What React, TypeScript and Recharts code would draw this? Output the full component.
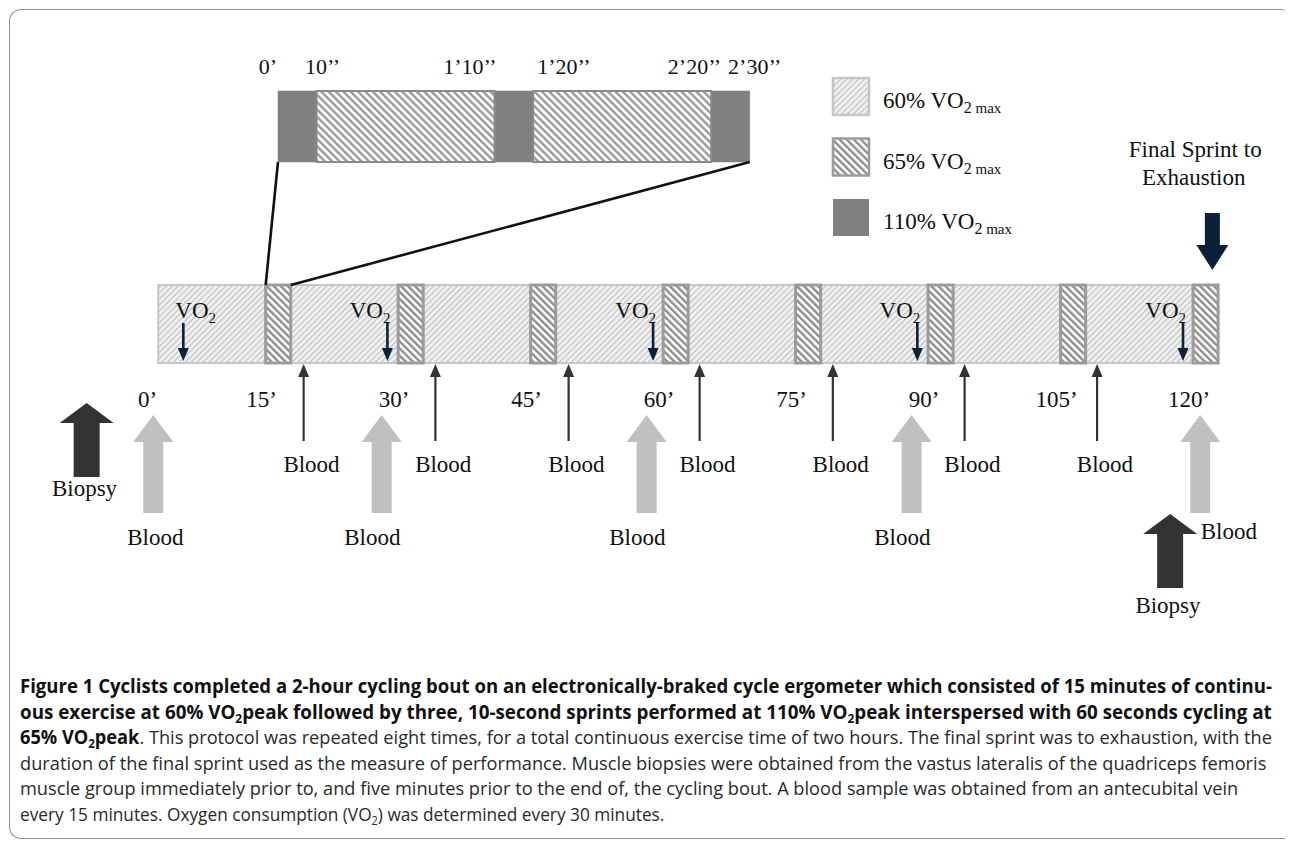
import React, { useLayoutEffect, useRef, useState } from 'react';
import { ComposedChart, XAxis, YAxis, ReferenceArea, ReferenceLine, Scatter, Legend } from 'recharts';

// ---------------- data (diagram units: the picture is schematic, not to scale) ----------------
const segmentIntensity = ['60%', '65%', '60%', '65%', '60%', '65%', '60%', '65%', '60%', '65%', '60%', '65%', '60%', '65%', '60%', '65%'];
const segmentLength = [15, 3.5, 15, 3.5, 15, 3.5, 15, 3.5, 15, 3.5, 15, 3.5, 15, 3.5, 15, 3.5];
const minuteLabels = ['0’', '15’', '30’', '45’', '60’', '75’', '90’', '105’', '120’'];

const insetIntensity = ['110%', '65%', '110%', '65%', '110%'];
const insetLength = [13, 60, 13, 60, 13];
const insetLabels = ['0’', '10’’', '1’10’’', '1’20’’', '2’20’’', '2’30’’'];
const insetLabelAnchor = ['end', 'middle', 'end', 'start', 'end', 'middle'];
const insetLabelShift = [-1, 6, 2, 4, 10, 5];

const vo2Positions = [3.5, 32.0, 69.1, 106.0, 143.1];
const bloodPositions = [20.3, 38.7, 57.3, 75.6, 94.2, 112.6, 131.1];
const bloodMajorPositions = [-0.7, 31.2, 68.2, 105.2, 145.5];
const bloodMajorLabelPositions = [-0.4, 29.9, 66.9, 103.9, 149.5];
const biopsyPositions = [-10.0, 141.3];
const finalSprintPosition = [147.2];
const legendLabels = ['60%', '65%', '110%'];

// ---------------- layout ----------------
const W = 1289;
const H = 680;
const X_DOMAIN: [number, number] = [-22.1, 157.9];
const INSET_START = 16.72;
const INSET_END = 82.6;
const SERIF = "'Liberation Serif', 'Times New Roman', serif";
const SANS = "'Open Sans', 'Noto Sans', sans-serif";

const FILL: Record<string, string> = { '60%': 'url(#p60)', '65%': 'url(#p65)', '110%': '#808080' };
const STROKE: Record<string, string> = { '60%': '#c6c6c6', '65%': '#9c9c9c', '110%': '#808080' };

const cum = (arr: number[]) => {
  let acc = 0;
  return arr.map((l) => {
    const s = acc;
    acc += l;
    return s;
  });
};
const segStart = cum(segmentLength);
const insetStart = cum(insetLength);
const insetTotal = insetLength.reduce((a, b) => a + b, 0);
const insetToMain = (u: number) => INSET_START + (u / insetTotal) * (INSET_END - INSET_START);
const insetBounds = [...insetStart, insetTotal];

// tick positions: 0' at bar start, later labels at the start of each sprint block
const tickPositions = minuteLabels.map((_, k) => (k === 0 ? 0 : segStart[2 * k - 1]));

// ---------------- shapes ----------------
const blockUp = (fill: string, len: number, headH: number, headW: number, shaftW: number) => (p: any) => {
  const { cx, cy } = p;
  const pts = [
    [cx, cy],
    [cx + headW / 2, cy + headH],
    [cx + shaftW / 2, cy + headH],
    [cx + shaftW / 2, cy + len],
    [cx - shaftW / 2, cy + len],
    [cx - shaftW / 2, cy + headH],
    [cx - headW / 2, cy + headH],
  ];
  return <polygon points={pts.map((q) => q.join(',')).join(' ')} fill={fill} />;
};

const blockDown = (fill: string, len: number, headH: number, headW: number, shaftW: number) => (p: any) => {
  const { cx, cy } = p;
  const pts = [
    [cx, cy],
    [cx + headW / 2, cy - headH],
    [cx + shaftW / 2, cy - headH],
    [cx + shaftW / 2, cy - len],
    [cx - shaftW / 2, cy - len],
    [cx - shaftW / 2, cy - headH],
    [cx - headW / 2, cy - headH],
  ];
  return <polygon points={pts.map((q) => q.join(',')).join(' ')} fill={fill} />;
};

const thinUp = (color: string, len: number) => (p: any) => {
  const { cx, cy } = p;
  return (
    <g>
      <line x1={cx} y1={cy + 10} x2={cx} y2={cy + len} stroke={color} strokeWidth={2.2} />
      <polygon points={`${cx},${cy} ${cx + 5.5},${cy + 13} ${cx - 5.5},${cy + 13}`} fill={color} />
    </g>
  );
};

const thinDown = (color: string, len: number) => (p: any) => {
  const { cx, cy } = p;
  return (
    <g>
      <line x1={cx} y1={cy - len} x2={cx} y2={cy - 10} stroke={color} strokeWidth={2.6} />
      <polygon points={`${cx},${cy} ${cx + 5.5},${cy - 13} ${cx - 5.5},${cy - 13}`} fill={color} />
    </g>
  );
};

const textShape = (size: number, anchor: string | ((i: number) => string), dx: number | ((i: number) => number) = 0) => (p: any) => {
  const a = typeof anchor === 'function' ? anchor(p.payload.i) : anchor;
  const d = typeof dx === 'function' ? dx(p.payload.i) : dx;
  return (
    <text x={p.cx + d} y={p.cy} textAnchor={a} fontFamily={SERIF} fontSize={size} fill="#111">
      {p.payload.label}
    </text>
  );
};

const vo2Shape = (p: any) => {
  const first = p.payload.i === 0;
  return (
    <text x={first ? p.cx - 8 : p.cx + 3} y={p.cy} textAnchor={first ? 'start' : 'end'} fontFamily={SERIF} fontSize={23} fill="#111">
      VO<tspan fontSize={15} dy={5}>2</tspan>
    </text>
  );
};

const LegendContent = () => (
  <svg width={220} height={170} style={{ display: 'block' }}>
    {legendLabels.map((l, i) => (
      <g key={l}>
        <rect x={2} y={2 + i * 60.5} width={36} height={37} fill={FILL[l]} stroke={l === '110%' ? 'none' : STROKE[l]} strokeWidth={2.5} />
        <text x={52} y={32 + i * 60.5} fontFamily={SERIF} fontSize={23} fill="#111">
          {l} VO<tspan fontSize={16} dy={5}>2</tspan>
          <tspan fontSize={15}> max</tspan>
        </text>
      </g>
    ))}
  </svg>
);

// caption line condensed to the reference line length
function FitLine({ target, children, style }: { target: number; children: React.ReactNode; style?: React.CSSProperties }) {
  const ref = useRef<HTMLSpanElement>(null);
  const [scale, setScale] = useState(1);
  useLayoutEffect(() => {
    if (ref.current) {
      const w = ref.current.offsetWidth;
      if (w > 0) setScale(target / w);
    }
  }, [target]);
  return (
    <div style={{ height: 25.6, whiteSpace: 'nowrap', ...style }}>
      <span ref={ref} style={{ display: 'inline-block', transform: `scaleX(${scale})`, transformOrigin: '0 0' }}>
        {children}
      </span>
    </div>
  );
}

const sub = (t: string) => <sub style={{ fontSize: 12, verticalAlign: -4 }}>{t}</sub>;

export default function App() {
  const tickData = minuteLabels.map((label, i) => ({ x: tickPositions[i], y: 407, label, i }));
  const insetTickData = insetLabels.map((label, i) => ({ x: insetToMain(insetBounds[i]), y: 74, label, i }));
  const vo2Text = vo2Positions.map((x, i) => ({ x, y: 318, i }));
  const vo2Arrows = vo2Positions.map((x) => ({ x, y: 361 }));
  const bloodArrows = bloodPositions.map((x) => ({ x, y: 364 }));
  const bloodText = bloodPositions.map((x) => ({ x: x + 1.1, y: 472, label: 'Blood' }));
  const majorArrows = bloodMajorPositions.map((x) => ({ x, y: 415 }));
  const majorText = bloodMajorLabelPositions.map((x, i) => ({ x, y: i === 4 ? 539 : 545, label: 'Blood' }));
  const biopsyArrows = biopsyPositions.map((x, i) => ({ x, y: i === 0 ? 403 : 514 }));
  const biopsyText = biopsyPositions.map((x, i) => ({ x: x - 0.3, y: i === 0 ? 496 : 613, label: 'Biopsy' }));
  const sprintArrow = finalSprintPosition.map((x) => ({ x, y: 270 }));
  const sprintText = [
    { x: finalSprintPosition[0] - 2.4, y: 157, label: 'Final Sprint to' },
    { x: finalSprintPosition[0] - 2.6, y: 185, label: 'Exhaustion' },
  ];

  return (
    <div style={{ position: 'absolute', left: 0, top: 0, width: 1289, height: 842, background: '#fff', overflow: 'hidden' }}>
      <svg width={0} height={0} style={{ position: 'absolute' }}>
        <defs>
          <pattern id="p60" width={4.2} height={4.2} patternUnits="userSpaceOnUse" patternTransform="rotate(45)">
            <rect x={0} y={0} width={4.2} height={4.2} fill="#f1f1f1" />
            <rect x={0} y={0} width={1.3} height={4.2} fill="#c4c4c4" />
          </pattern>
          <pattern id="p65" width={5} height={5} patternUnits="userSpaceOnUse" patternTransform="rotate(-45)">
            <rect x={0} y={0} width={5} height={5} fill="#ffffff" />
            <rect x={0} y={0} width={2.4} height={5} fill="#8c8c8c" />
          </pattern>
          <pattern id="p65i" width={5.2} height={5.2} patternUnits="userSpaceOnUse" patternTransform="rotate(-45)">
            <rect x={0} y={0} width={5.2} height={5.2} fill="#ffffff" />
            <rect x={0} y={0} width={2.4} height={5.2} fill="#9a9a9a" />
          </pattern>
        </defs>
      </svg>

      {/* figure frame */}
      <div
        style={{
          position: 'absolute',
          left: 9,
          top: 9,
          width: 1275,
          height: 828,
          borderTop: '1.5px solid #8f8f8f',
          borderLeft: '1.5px solid #8f8f8f',
          borderBottom: '1.5px solid #8f8f8f',
          borderTopLeftRadius: 12,
          borderBottomLeftRadius: 12,
          borderTopRightRadius: 4,
        }}
      />

      <div style={{ position: 'absolute', left: 0, top: 0 }}>
        <ComposedChart width={W} height={H} margin={{ top: 0, right: 0, bottom: 0, left: 0 }}>
          <XAxis type="number" dataKey="x" domain={X_DOMAIN} hide allowDataOverflow />
          <YAxis type="number" dataKey="y" domain={[0, H]} reversed hide allowDataOverflow />
          <Legend
            layout="vertical"
            align="center"
            verticalAlign="middle"
            content={<LegendContent />}
            wrapperStyle={{ position: 'absolute', left: 831, top: 76, width: 220, height: 170 }}
          />

          {/* inset: one sprint block in detail */}
          {insetIntensity.map((k, i) =>
            k === '110%' ? (
              <ReferenceArea
                key={'ia' + i}
                x1={insetToMain(insetStart[i])}
                x2={insetToMain(insetStart[i] + insetLength[i])}
                y1={91}
                y2={162}
                fill="#808080"
                fillOpacity={1}
                stroke="#808080"
                strokeWidth={0.5}
                ifOverflow="visible"
              />
            ) : null
          )}
          {insetIntensity.map((k, i) =>
            k === '65%' ? (
              <ReferenceArea
                key={'ib' + i}
                x1={insetToMain(insetStart[i])}
                x2={insetToMain(insetStart[i] + insetLength[i])}
                y1={91}
                y2={162}
                fill="url(#p65i)"
                fillOpacity={1}
                stroke="#8a8a8a"
                strokeWidth={2}
                ifOverflow="visible"
              />
            ) : null
          )}

          {/* zoom lines */}
          <ReferenceLine
            segment={[
              { x: insetToMain(0), y: 162 },
              { x: segStart[1], y: 285 },
            ]}
            stroke="#111"
            strokeWidth={2.6}
            ifOverflow="visible"
          />
          <ReferenceLine
            segment={[
              { x: insetToMain(insetTotal), y: 162 },
              { x: segStart[1] + segmentLength[1], y: 285 },
            ]}
            stroke="#111"
            strokeWidth={2.6}
            ifOverflow="visible"
          />

          {/* main timeline: 60% segments first, sprint blocks on top */}
          {segmentIntensity.map((k, i) =>
            k === '60%' ? (
              <ReferenceArea
                key={'m' + i}
                x1={segStart[i]}
                x2={segStart[i] + segmentLength[i]}
                y1={285}
                y2={363}
                fill={FILL[k]}
                fillOpacity={1}
                stroke={STROKE[k]}
                strokeWidth={2}
                ifOverflow="visible"
              />
            ) : null
          )}
          {segmentIntensity.map((k, i) =>
            k !== '60%' ? (
              <ReferenceArea
                key={'s' + i}
                x1={segStart[i]}
                x2={segStart[i] + segmentLength[i]}
                y1={285}
                y2={363}
                fill={FILL[k]}
                fillOpacity={1}
                stroke={STROKE[k]}
                strokeWidth={3}
                ifOverflow="visible"
              />
            ) : null
          )}

          <Scatter
            name="inset ticks"
            data={insetTickData}
            isAnimationActive={false}
            shape={textShape(22, (i: number) => insetLabelAnchor[i], (i: number) => insetLabelShift[i])}
          />
          <Scatter
            name="ticks"
            data={tickData}
            isAnimationActive={false}
            shape={textShape(23, (i: number) => (i === 0 ? 'end' : 'middle'), (i: number) => (i === 0 ? -1 : -4))}
          />
          <Scatter name="vo2 text" data={vo2Text} isAnimationActive={false} shape={vo2Shape} />
          <Scatter name="vo2" data={vo2Arrows} isAnimationActive={false} shape={thinDown('#0c1f3b', 38)} />
          <Scatter name="blood" data={bloodArrows} isAnimationActive={false} shape={thinUp('#333333', 77)} />
          <Scatter name="blood text" data={bloodText} isAnimationActive={false} shape={textShape(23, 'middle')} />
          <Scatter name="blood major" data={majorArrows} isAnimationActive={false} shape={blockUp('#c0c0c0', 98, 27, 40, 20)} />
          <Scatter name="blood major text" data={majorText} isAnimationActive={false} shape={textShape(23, 'middle')} />
          <Scatter name="biopsy" data={biopsyArrows} isAnimationActive={false} shape={blockUp('#333333', 74, 20, 54, 26)} />
          <Scatter name="biopsy text" data={biopsyText} isAnimationActive={false} shape={textShape(23, 'middle')} />
          <Scatter name="final sprint" data={sprintArrow} isAnimationActive={false} shape={blockDown('#0c1f3b', 57, 25, 32, 15)} />
          <Scatter name="final sprint text" data={sprintText} isAnimationActive={false} shape={textShape(23, 'middle')} />
        </ComposedChart>
      </div>

      {/* caption */}
      <div
        style={{
          position: 'absolute',
          left: 20,
          top: 674,
          width: 1260,
          fontFamily: SANS,
          fontSize: 19,
          lineHeight: '25.6px',
          color: '#2a2a2a',
        }}
      >
        <FitLine target={1252} style={{ fontWeight: 700, color: '#111' }}>
          Figure 1 Cyclists completed a 2-hour cycling bout on an electronically-braked cycle ergometer which consisted of 15 minutes of continu-
        </FitLine>
        <FitLine target={1252} style={{ fontWeight: 700, color: '#111' }}>
          ous exercise at 60% VO{sub('2')}peak followed by three, 10-second sprints performed at 110% VO{sub('2')}peak interspersed with 60 seconds cycling at
        </FitLine>
        <FitLine target={1252}>
          <b style={{ color: '#111' }}>65% VO{sub('2')}peak</b>. This protocol was repeated eight times, for a total continuous exercise time of two hours. The final sprint was to exhaustion, with the
        </FitLine>
        <FitLine target={1246}>
          duration of the final sprint used as the measure of performance. Muscle biopsies were obtained from the vastus lateralis of the quadriceps femoris
        </FitLine>
        <FitLine target={1218}>
          muscle group immediately prior to, and five minutes prior to the end of, the cycling bout. A blood sample was obtained from an antecubital vein
        </FitLine>
        <FitLine target={644}>
          every 15 minutes. Oxygen consumption (VO{sub('2')}) was determined every 30 minutes.
        </FitLine>
      </div>
    </div>
  );
}
